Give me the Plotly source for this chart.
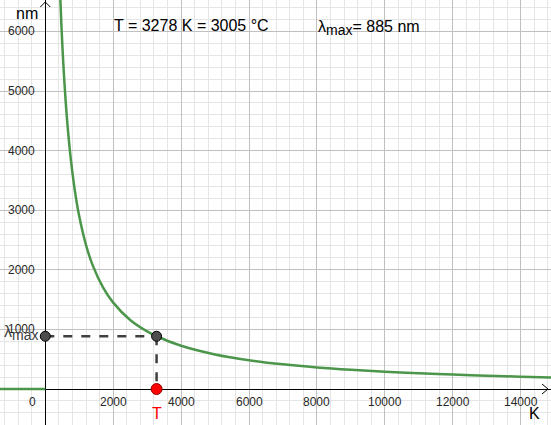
import plotly.graph_objects as go

# Wien's displacement law: lambda_max (nm) against temperature T (K)
temp_k = [440, 480, 520, 580, 650, 750, 870, 1000, 1200, 1400, 1700, 2000, 2500, 3000,
          3278, 4000, 5000, 6000, 7000, 8000, 9000, 10000, 11000, 12000, 13000, 14000, 15000]
lambda_nm = [6586, 6038, 5573, 4997, 4458, 3864, 3331, 2898, 2415, 2070, 1705, 1449, 1159, 966,
             885, 725, 580, 483, 414, 362, 322, 290, 263, 242, 223, 207, 193]
neg_temp = [-1400, 0]
neg_lambda = [0, 0]

T = 3278
T_celsius = 3005
lam_max = 885

x_ticks = [2000, 4000, 6000, 8000, 10000, 12000, 14000]
y_ticks = [1000, 2000, 3000, 4000, 5000, 6000]

green = "rgb(76,150,76)"
dark = "rgb(64,64,64)"

fig = go.Figure()

fig.add_trace(go.Scatter(x=neg_temp, y=neg_lambda, mode="lines",
                         line=dict(color=green, width=2.5), hoverinfo="skip"))
fig.add_trace(go.Scatter(x=temp_k, y=lambda_nm, mode="lines",
                         line=dict(color=green, width=2.5, shape="spline"), hoverinfo="skip"))

# dashed guides to the axes
fig.add_trace(go.Scatter(x=[0, T], y=[lam_max, lam_max], mode="lines",
                         line=dict(color=dark, width=2.5, dash="dash")))
fig.add_trace(go.Scatter(x=[T, T], y=[lam_max, 0], mode="lines",
                         line=dict(color=dark, width=2.5, dash="dash")))

fig.add_trace(go.Scatter(x=[0, T], y=[lam_max, lam_max], mode="markers",
                         marker=dict(color="rgb(77,77,77)", size=10, line=dict(color="black", width=1))))
fig.add_trace(go.Scatter(x=[T], y=[0], mode="markers",
                         marker=dict(color="rgb(255,0,0)", size=11, line=dict(color="rgb(150,0,0)", width=1))))

font = dict(family="Liberation Sans, Arial, sans-serif", color="black")
sub_max = "<sub><span style='font-size:14px'>max</span></sub>"

annotations = []
for t in x_ticks:
    annotations.append(dict(x=t, y=0, text=str(t), showarrow=False, yshift=-13,
                            font=dict(font, size=12, color="rgb(40,40,40)")))
for v in y_ticks:
    annotations.append(dict(x=0, y=v, text=str(v), showarrow=False, xanchor="right", xshift=-8,
                            font=dict(font, size=12, color="rgb(40,40,40)")))
annotations.append(dict(x=0, y=0, text="0", showarrow=False, xanchor="right", xshift=-7, yshift=-13,
                        font=dict(font, size=12, color="rgb(40,40,40)")))

annotations += [
    dict(x=0, y=1, xref="x", yref="paper", text="nm", showarrow=False, xanchor="right",
         yanchor="top", xshift=-5, yshift=-3, font=dict(font, size=16)),
    dict(x=1, y=0, xref="paper", yref="y", text="K", showarrow=False, xanchor="right",
         xshift=-9, yshift=-24, font=dict(font, size=16)),
    dict(x=T, y=0, text="T", showarrow=False, yshift=-24, font=dict(font, size=16, color="red")),
    dict(x=0, y=lam_max, text="λ" + sub_max, showarrow=False, xanchor="right", xshift=-5,
         yshift=3, font=dict(font, size=16, color=dark)),
    dict(x=0.203, y=0.94, xref="paper", yref="paper", xanchor="left", yanchor="middle", showarrow=False,
         text="T = %d K = %d °C" % (T, T_celsius), font=dict(font, size=16)),
    dict(x=0.573, y=0.935, xref="paper", yref="paper", xanchor="left", yanchor="middle", showarrow=False,
         text="λ" + sub_max + "= %d nm" % lam_max, font=dict(font, size=16)),
]

# axis arrow heads
shapes = [
    dict(type="path", xref="x", yref="paper", xsizemode="pixel", ysizemode="pixel",
         xanchor=0, yanchor=1, path="M -5,-7 L 0,-2 L 5,-7", line=dict(color="black", width=1)),
    dict(type="path", xref="paper", yref="y", xsizemode="pixel", ysizemode="pixel",
         xanchor=1, yanchor=0, path="M -9,5 L -3,0 L -9,-5", line=dict(color="black", width=1)),
]

fig.update_layout(
    width=551, height=425,
    margin=dict(l=0, r=0, t=0, b=0),
    plot_bgcolor="white", paper_bgcolor="white",
    showlegend=False,
    annotations=annotations,
    shapes=shapes,
    xaxis=dict(range=[-1334, 14895], tick0=0, dtick=2000, showticklabels=False,
               showgrid=True, gridcolor="rgb(192,192,192)", gridwidth=1,
               minor=dict(dtick=400, showgrid=True, gridcolor="rgb(229,229,229)", gridwidth=1),
               zeroline=True, zerolinecolor="black", zerolinewidth=1, fixedrange=True),
    yaxis=dict(range=[-604, 6527], tick0=0, dtick=1000, showticklabels=False,
               showgrid=True, gridcolor="rgb(192,192,192)", gridwidth=1,
               minor=dict(dtick=200, showgrid=True, gridcolor="rgb(229,229,229)", gridwidth=1),
               zeroline=True, zerolinecolor="black", zerolinewidth=1, fixedrange=True),
)

# the page body has a default margin; drop it so the plot fills the window
fig.write_html("out.html", config={"displayModeBar": False},
               post_script="document.body.style.margin='0';")
